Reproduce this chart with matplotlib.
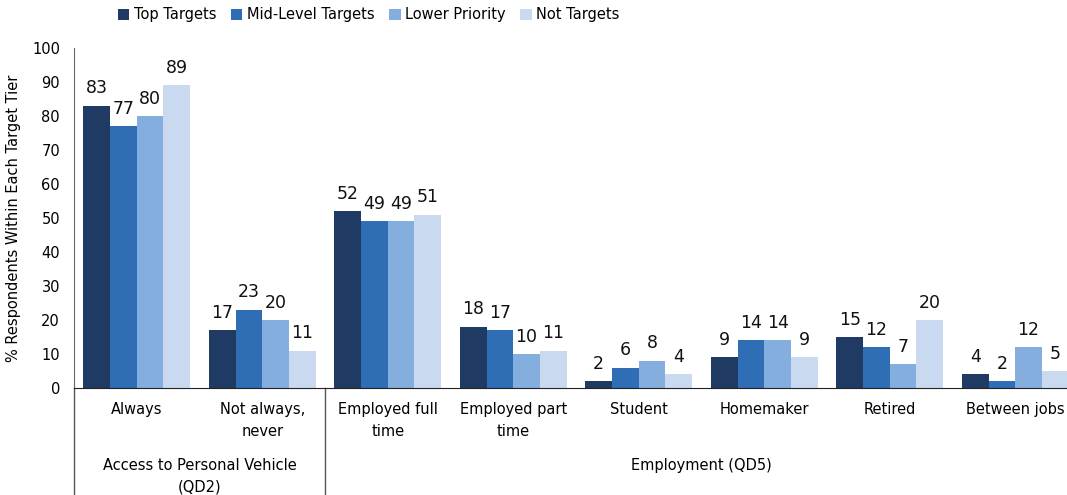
import numpy as np
import matplotlib
matplotlib.use("Agg")
import matplotlib.pyplot as plt
from matplotlib.patches import Patch

categories = ["Always", "Not always,\nnever", "Employed full\ntime", "Employed part\ntime",
              "Student", "Homemaker", "Retired", "Between jobs"]
series = ["Top Targets", "Mid-Level Targets", "Lower Priority", "Not Targets"]
top_targets = [83, 17, 52, 18, 2, 9, 15, 4]
mid_level = [77, 23, 49, 17, 6, 14, 12, 2]
lower_priority = [80, 20, 49, 10, 8, 14, 7, 12]
not_targets = [89, 11, 51, 11, 4, 9, 20, 5]
groups = ["Access to Personal Vehicle\n(QD2)", "Employment (QD5)"]
group_sizes = [2, 6]

colors = ["#1F3B63", "#2F6DB5", "#84AEDE", "#C9DAF0"]
values = [top_targets, mid_level, lower_priority, not_targets]

plt.rcParams["font.family"] = "DejaVu Sans"
fig = plt.figure(figsize=(10.67, 4.95), dpi=100)
# axes runs a little past the right edge of the figure
ax = fig.add_axes([74 / 1067, 0.216, 1004 / 1067, 0.687])

x = np.arange(len(categories))
w = 0.213
for i, (vals, c) in enumerate(zip(values, colors)):
    pos = x + (i - 1.5) * w
    ax.bar(pos, vals, width=w, color=c, edgecolor="none")
    for p, v in zip(pos, vals):
        ax.text(p, v + 2.5, str(v), ha="center", va="bottom", fontsize=12.5, color="#111111")

ax.set_xlim(-0.5, len(categories) - 0.5)
ax.set_ylim(0, 100)
ax.set_yticks(range(0, 101, 10))
ax.tick_params(axis="y", length=0, labelsize=10.5, pad=10)
ax.tick_params(axis="x", length=0, labelsize=10.5, pad=10)
ax.set_xticks(x)
ax.set_xticklabels(categories, linespacing=1.6)
for s in ["top", "right"]:
    ax.spines[s].set_visible(False)
ax.spines["left"].set_color("#666666")
ax.spines["bottom"].set_color("#222222")
ax.set_ylabel("% Respondents Within Each Target Tier", fontsize=10.5, labelpad=8)

# group labels and separator lines below the category labels
start = 0
for g, n in zip(groups, group_sizes):
    center = start + (n - 1) / 2
    ax.text(center, -20.5, g, ha="center", va="top", fontsize=10.5,
            linespacing=1.6, clip_on=False)
    ax.plot([start - 0.5, start - 0.5], [0, -35], color="#555555", lw=1, clip_on=False)
    start += n

handles = [Patch(facecolor=c, label=s) for c, s in zip(colors, series)]
fig.legend(handles=handles, loc="upper left", bbox_to_anchor=(0.098, 1.012), ncol=4,
           frameon=False, fontsize=10.5, handlelength=0.8, handleheight=0.8,
           handletextpad=0.3, columnspacing=1.0)

fig.savefig("out.png", dpi=100)
